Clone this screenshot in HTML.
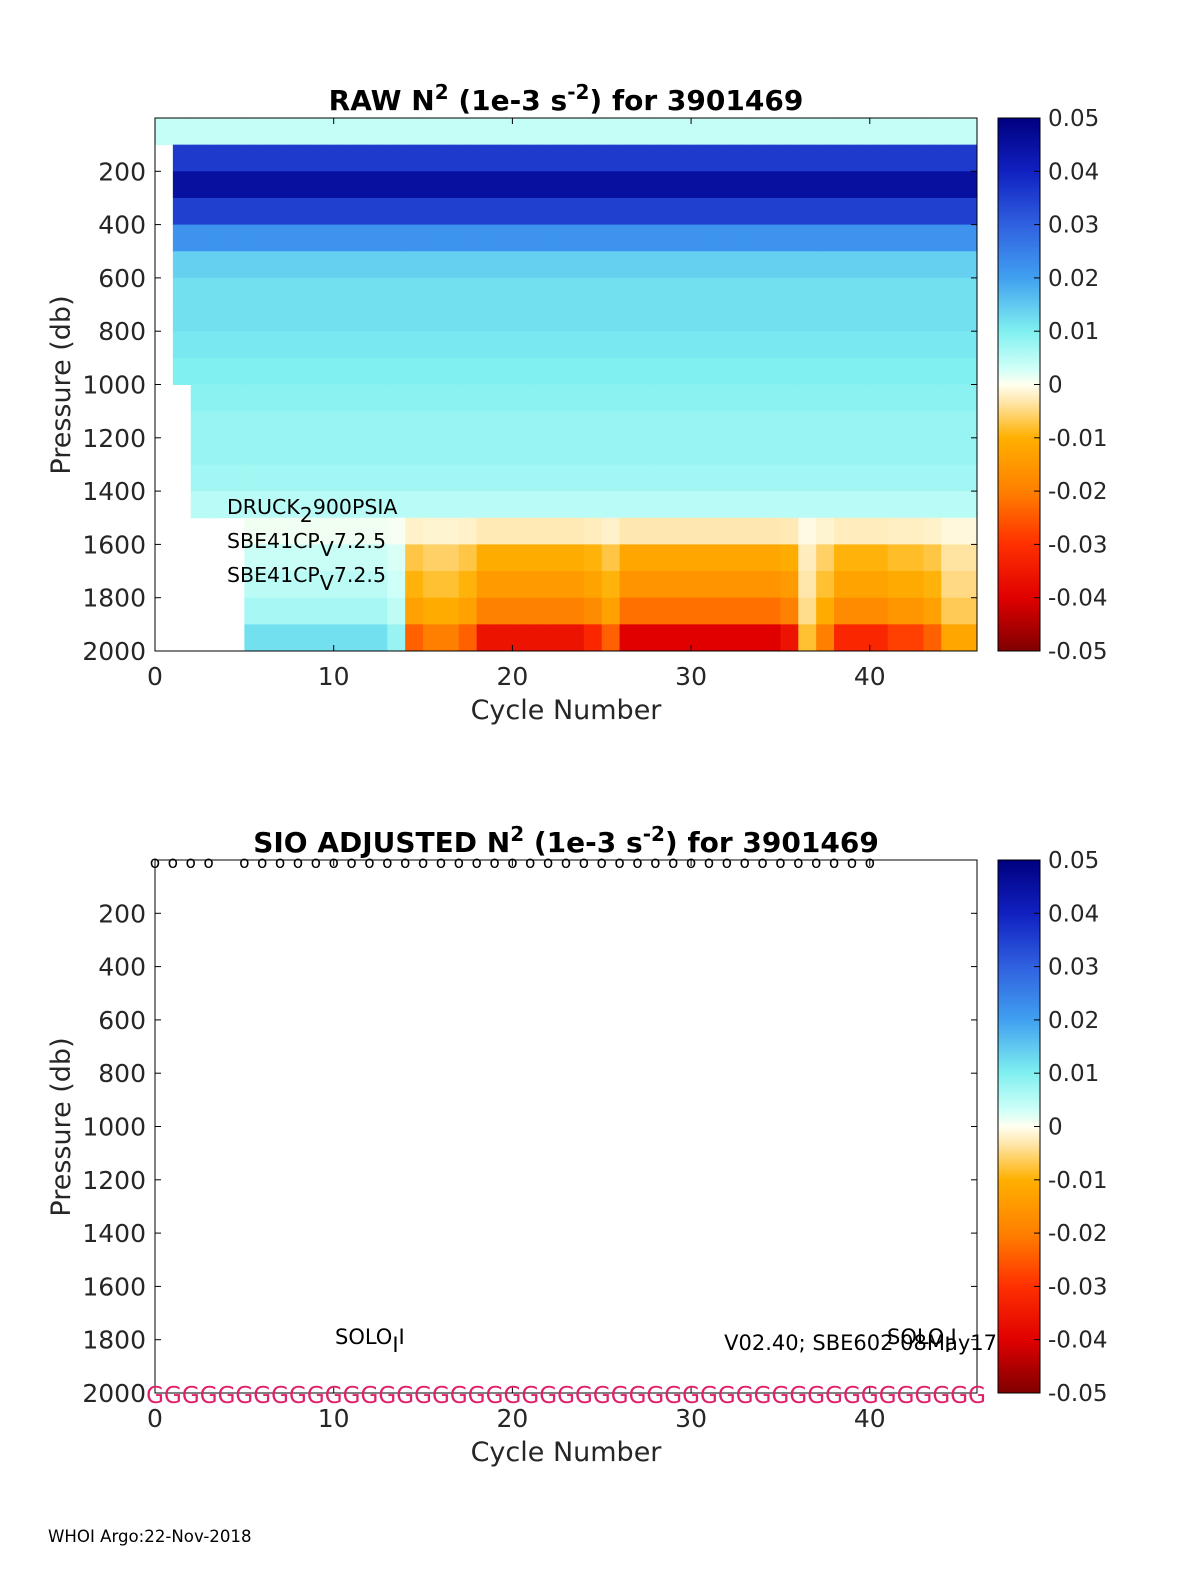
<!DOCTYPE html>
<html><head><meta charset="utf-8"><style>
html,body{margin:0;padding:0;background:#fff;overflow:hidden;width:1200px;height:1575px}
svg{display:block}
svg text{font-family:"DejaVu Sans","Liberation Sans",sans-serif}
</style></head><body>
<svg id="fig" width="1200" height="1575" viewBox="0 0 1200 1575" xmlns="http://www.w3.org/2000/svg">
<defs>
<linearGradient id="cmap" x1="0" y1="1" x2="0" y2="0">
<stop offset="0" stop-color="#800000"/><stop offset="0.1" stop-color="#e00000"/>
<stop offset="0.2" stop-color="#ff3000"/><stop offset="0.3" stop-color="#ff8000"/>
<stop offset="0.4" stop-color="#ffb000"/><stop offset="0.47" stop-color="#ffe8b0"/>
<stop offset="0.5" stop-color="#fffff0"/><stop offset="0.53" stop-color="#d0fff8"/>
<stop offset="0.6" stop-color="#80f0f0"/><stop offset="0.7" stop-color="#40a0f0"/>
<stop offset="0.8" stop-color="#3060e0"/><stop offset="0.9" stop-color="#1020c0"/>
<stop offset="1" stop-color="#000080"/></linearGradient>
</defs>
<g id="topPanel"></g><g id="botPanel"></g>
</svg>
<script>
const cycles=46;
const depthBinBase=[0.004,0.036,0.045,0.035,0.022,0.014,0.012,0.012,0.011,0.01,0.009,0.008,0.008,0.007,0.005,-0.003,-0.012,-0.016,-0.022,-0.04];
const deepFactor=[-0.3,-0.3,-0.3,-0.3,-0.3,-0.3,-0.3,-0.3,-0.3,-0.3,-0.3,-0.3,-0.3,-0.2,0.6,0.5,0.5,0.6,0.9,0.9,0.9,0.9,0.9,0.9,0.8,0.6,1,1,1,1,1,1,1,1,1,0.9,0.2,0.5,0.8,0.8,0.8,0.7,0.7,0.6,0.3,0.3];
const maxDepth=[100,1000,1500,1500,1500,2000,2000,2000,2000,2000,2000,2000,2000,2000,2000,2000,2000,2000,2000,2000,2000,2000,2000,2000,2000,2000,2000,2000,2000,2000,2000,2000,2000,2000,2000,2000,2000,2000,2000,2000,2000,2000,2000,2000,2000,2000];
const xTicks=[0,10,20,30,40];
const yTicks=[200,400,600,800,1000,1200,1400,1600,1800,2000];
const cbTicks=[0.05,0.04,0.03,0.02,0.01,0,-0.01,-0.02,-0.03,-0.04,-0.05];
const markerCycles=[0,1,2,3,5,6,7,8,9,10,11,12,13,14,15,16,17,18,19,20,21,22,23,24,25,26,27,28,29,30,31,32,33,34,35,36,37,38,39,40];
const NS='http://www.w3.org/2000/svg';
const stops=[[-0.05,[128,0,0]],[-0.04,[224,0,0]],[-0.03,[255,48,0]],[-0.02,[255,128,0]],[-0.01,[255,176,0]],[-0.003,[255,232,176]],[0,[255,255,240]],[0.003,[208,255,248]],[0.01,[128,240,240]],[0.02,[64,160,240]],[0.03,[48,96,224]],[0.04,[16,32,192]],[0.05,[0,0,128]]];
function cmap(v){v=Math.max(-0.05,Math.min(0.05,v));for(let i=0;i<stops.length-1;i++){const a=stops[i],b=stops[i+1];if(v<=b[0]){const t=(v-a[0])/(b[0]-a[0]);return 'rgb('+a[1].map((c,k)=>Math.round(c+(b[1][k]-c)*t)).join(',')+')';}}return 'rgb(0,0,128)';}
function el(tag,attrs,parent,txt){const e=document.createElementNS(NS,tag);for(const k in attrs)e.setAttribute(k,attrs[k]);if(txt!==undefined)e.textContent=txt;parent.appendChild(e);return e;}
const X0=155,X1=977;
const xs=c=>X0+c*(X1-X0)/46;
function drawPanel(g,py,title,sup1,mid,sup2,tail,fill){
  const bottom=py+533;
  const ys=p=>py+p*533/2000;
  if(fill){
    for(let c=0;c<cycles;c++){
      for(let d=0;d<depthBinBase.length;d++){
        if(d*100>=maxDepth[c])continue;
        const v=d>=15?depthBinBase[d]*deepFactor[c]:depthBinBase[d];
        const r=el('rect',{x:xs(c),y:ys(d*100),width:xs(c+1)-xs(c)+0.5,height:ys(100)-ys(0)+0.5,fill:cmap(v)},g);
        
        
      }
    }
  }
  const box=el('rect',{x:X0,y:py,width:X1-X0,height:533,fill:'none',stroke:'#000','stroke-width':1},g);
  
  
  xTicks.forEach(t=>{el('line',{x1:xs(t),x2:xs(t),y1:bottom,y2:bottom-6,stroke:'#000'},g);el('line',{x1:xs(t),x2:xs(t),y1:py,y2:py+6,stroke:'#000'},g);
    const tx=el('text',{x:xs(t),y:bottom+34,'text-anchor':'middle','font-size':25,fill:'#262626'},g,String(t));
    
    });
  yTicks.forEach(t=>{el('line',{x1:X0,x2:X0+6,y1:ys(t),y2:ys(t),stroke:'#000'},g);el('line',{x1:X1,x2:X1-6,y1:ys(t),y2:ys(t),stroke:'#000'},g);
    const tx=el('text',{x:146,y:ys(t)+9,'text-anchor':'end','font-size':25,fill:'#262626'},g,String(t));
    
    });
  const xl=el('text',{x:566,y:bottom+68,'text-anchor':'middle','font-size':27,fill:'#262626'},g,'Cycle Number');
  
  
  const yl=el('text',{x:70,y:py+267,'text-anchor':'middle','font-size':27,fill:'#262626',transform:'rotate(-90 70 '+(py+267)+')'},g,'Pressure (db)');
  
  
  const tt=el('text',{x:566,y:py-8,'text-anchor':'middle','font-size':28,'font-weight':'bold',fill:'#000'},g);
  
  
  el('tspan',{},tt,title);el('tspan',{dy:-11,'font-size':20},tt,sup1);el('tspan',{dy:11},tt,mid);el('tspan',{dy:-11,'font-size':20},tt,sup2);el('tspan',{dy:11},tt,tail);
  const cb=el('rect',{x:998,y:py,width:42,height:533,fill:'url(#cmap)',stroke:'#000'},g);
  
  
  cbTicks.forEach(t=>{const y=py+(0.05-t)/0.1*533;el('line',{x1:1034,x2:1040,y1:y,y2:y,stroke:'#000'},g);
    const tx=el('text',{x:1048,y:y+8,'font-size':23,fill:'#262626'},g,String(t));
    
    });
  return ys;
}
const gTop=document.getElementById('topPanel'),gBot=document.getElementById('botPanel');
drawPanel(gTop,118,'RAW N','2',' (1e-3 s','-2',') for 3901469',true);
function sub(g,x,y,a,s,b,fs,name){const t=el('text',{x:x,y:y,'font-size':fs,fill:'#000'},g);
  
  
  el('tspan',{},t,a);el('tspan',{dy:8},t,s);el('tspan',{dy:-8},t,b);}
sub(gTop,227,514,'DRUCK','2','900PSIA',20.5,'sensor-label');
sub(gTop,227,548,'SBE41CP','V','7.2.5',20.5,'sensor-label');
sub(gTop,227,582,'SBE41CP','V','7.2.5',20.5,'sensor-label');
drawPanel(gBot,860,'SIO  ADJUSTED N','2',' (1e-3 s','-2',') for 3901469',false);
markerCycles.forEach(c=>{const m=el('text',{x:xs(c),y:868,'text-anchor':'middle','font-size':17,fill:'#000'},gBot,'o');
  
  });
for(let c=0;c<=46;c++){const m=el('text',{x:xs(c),y:1403,'text-anchor':'middle','font-size':23,fill:'#e0206a'},gBot,'G');
  
  }
sub(gBot,335,1344,'SOLO','I','I',21,'float-type-label');
sub(gBot,887,1344,'SOLO','I','I',21,'float-type-label');
const v=el('text',{x:997,y:1350,'text-anchor':'end','font-size':21,fill:'#000'},gBot,'V02.40; SBE602 08May17');


const f=el('text',{x:48,y:1542,'font-size':16.6,fill:'#000'},gBot,'WHOI Argo:22-Nov-2018');


</script>
</body></html>
